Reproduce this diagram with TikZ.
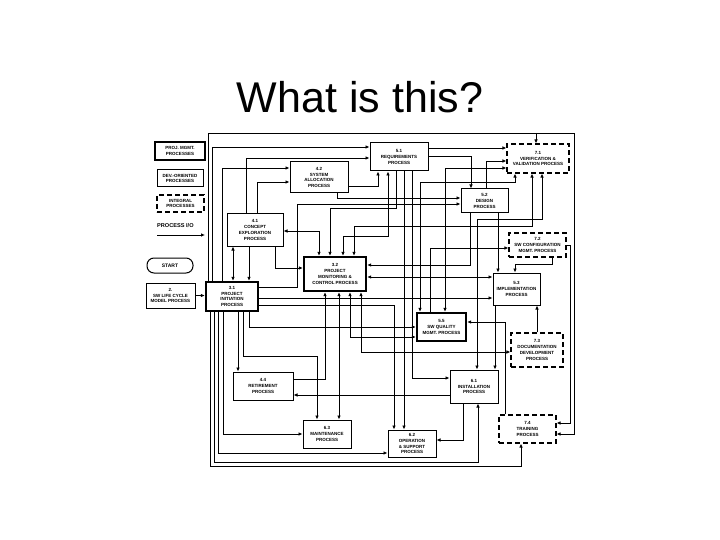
\documentclass[tikz,border=0pt]{standalone}
\usepackage{fontspec}
\setmainfont{Liberation Sans}
\usetikzlibrary{arrows.meta}
\newcommand{\bxf}{\fontsize{4.5}{5.9}\selectfont\bfseries}
\begin{document}
\begin{tikzpicture}[x=1pt,y=-1pt,
  box/.style={draw, line width=1pt, inner sep=0pt, align=center, font=\bxf},
  tbox/.style={box, line width=2.4pt},
  ibox/.style={box, line width=1.2pt, dash pattern=on 5pt off 3pt},
  sz/.style 2 args={minimum width=#1pt, minimum height=#2pt},
  wire/.style={line width=0.9pt},
  arr/.style={wire, -{Latex[length=4pt,width=3.6pt]}},
  darr/.style={wire, {Latex[length=4pt,width=3.6pt]}-{Latex[length=4pt,width=3.6pt]}}]
\useasboundingbox (0,0) rectangle (720,540);
\node[font=\fontsize{43}{50}\selectfont] (title) at (360,97) {What is this?};

% legend
\node[tbox, sz={50}{18}] (lgpm) at (180,151) {PROJ. MGMT.\\PROCESSES};
\node[box, sz={46}{17}] (lgdev) at (180,178.5) {DEV.-ORIENTED\\PROCESSES};
\node[ibox, sz={47}{17}] (lgint) at (180.5,203.5) {INTEGRAL\\PROCESSES};
\node[anchor=west, inner sep=0pt, font=\fontsize{5.6}{6}\selectfont\bfseries] (lgio) at (157,226) {PROCESS I/O};
\coordinate (la) at (157,235);
\coordinate (lb) at (205,235);
\draw[arr] (la) -- (lb);

% process boxes
\node[box, sz={46}{15}, rounded corners=7pt, font=\fontsize{5}{6}\selectfont\bfseries] (start) at (170,265.5) {START};
\node[box, sz={49}{25}] (lcm) at (170.5,295.5) {2.\\SW LIFE CYCLE\\MODEL PROCESS};
\node[tbox, sz={52}{29}] (pi) at (232,296.5) {3.1\\PROJECT\\INITIATION\\PROCESS};
\node[tbox, sz={62}{34}] (pmc) at (335,274) {3.2\\PROJECT\\MONITORING \&\\CONTROL PROCESS};
\node[box, sz={56}{32}] (ce) at (255,230) {4.1\\CONCEPT\\EXPLORATION\\PROCESS};
\node[box, sz={58}{31}] (sa) at (319,177.5) {4.2\\SYSTEM\\ALLOCATION\\PROCESS};
\node[box, sz={60}{28}] (ret) at (263,386) {4.4\\RETIREMENT\\PROCESS};
\node[box, sz={58}{28}] (req) at (399,157) {5.1\\REQUIREMENTS\\PROCESS};
\node[box, sz={47}{24}] (des) at (484.5,201) {5.2\\DESIGN\\PROCESS};
\node[box, sz={47}{32}] (imp) at (516.5,289) {5.3\\IMPLEMENTATION\\PROCESS};
\node[tbox, sz={49}{28}] (sqm) at (441.5,327) {5.5\\SW QUALITY\\MGMT. PROCESS};
\node[box, sz={48}{33}] (ins) at (474,386.5) {6.1\\INSTALLATION\\PROCESS};
\node[box, sz={48}{27}] (ops) at (412,443.5) {6.2\\OPERATION\\\& SUPPORT\\PROCESS};
\node[box, sz={48}{28}] (mnt) at (327,434) {6.3\\MAINTENANCE\\PROCESS};
\node[ibox, sz={62}{29}] (vv) at (538,158.5) {7.1\\VERIFICATION \&\\VALIDATION PROCESS};
\node[ibox, sz={57}{24}] (cm) at (537.5,245) {7.2\\SW CONFIGURATION\\MGMT. PROCESS};
\node[ibox, sz={52}{34}] (doc) at (537,350) {7.3\\DOCUMENTATION\\DEVELOPMENT\\PROCESS};
\node[ibox, sz={57}{28}] (trn) at (527.5,429) {7.4\\TRAINING\\PROCESS};

% connectors - top
\draw[arr] (pi.north -| 208,0) -- (208,133) -- (574,133) |- (trn.east |- 0,434);
\draw[arr] (536,133) -- (vv.north -| 536,0);
\draw[arr] (pi.north -| 212,0) |- (req.west |- 0,147);
\draw[arr] (pi.north -| 222,0) |- (sa.west |- 0,168);
\draw[arr] (ce.north -| 246,0) |- (req.west |- 0,158);
\draw[arr] (ce.north -| 257,0) |- (sa.west |- 0,182);
\draw[arr] (sa.east |- 0,186) -| (req.south -| 378,0);
\draw[darr] (pmc.north -| 343,0) |- (388,236) -- (req.south -| 388,0);
\draw[arr] (req.east |- 0,148) -- (vv.west |- 0,148);
\draw[arr] (req.east |- 0,156) -| (des.north -| 471,0);
\draw[arr] (des.north -| 486,0) |- (vv.west |- 0,161);
\draw[darr] (sqm.north -| 445,0) |- (vv.west |- 0,168);
\draw[arr] (req.south -| 396,0) |- (330,208) -- (pmc.north -| 330,0);
\draw[arr] (sa.south -| 337,0) |- (des.west |- 0,198);
\draw[arr] (pi.east |- 0,287) -| (297,204) -- (des.west |- 0,204);
\draw[darr] (ce.east |- 0,231) -| (pmc.north -| 319,0);
\draw[darr] (pmc.north -| 354,0) |- (532,226) -- (vv.south -| 532,0);
\draw[darr] (sqm.north -| 420,0) |- (515,182) -- (vv.south -| 515,0);
\draw[darr] (ins.north -| 477,0) |- (542,219) -- (vv.south -| 542,0);
\draw[arr] (sqm.north -| 430,0) |- (cm.west |- 0,248);
\draw[arr] (cm.south -| 552,0) |- (515,264) -- (imp.north -| 515,0);
\draw[arr] (des.south -| 498,0) -- (imp.north -| 498,0);
\draw[arr] (des.south -| 470,0) |- (pmc.east |- 0,265);
\draw[darr] (pmc.east |- 0,277) -- (imp.west |- 0,277);
\draw[arr] (pi.east |- 0,298) -- (imp.west |- 0,298);
\draw[arr] (pi.east |- 0,305) -| (ops.north -| 394,0);
\draw[arr] (req.south -| 404,0) -- (ops.north -| 404,0);
\draw[arr] (req.south -| 412,0) |- (ins.west |- 0,378);
\draw[arr] (ce.south -| 275,0) |- (pmc.west |- 0,268);
\draw[darr] (ce.south -| 233,0) -- (pi.north -| 233,0);
\draw[arr] (ce.south -| 249,0) -- (pi.north -| 249,0);
\draw[arr] (lcm.east) -- (pi.west |- lcm.east);

% connectors - bottom
\draw[arr] (pi.south -| 238,0) -- (ret.north -| 238,0);
\draw[arr] (pi.south -| 243,0) |- (317,356) -- (mnt.north -| 317,0);
\draw[arr] (pi.south -| 249,0) |- (sqm.west |- 0,327);
\draw[arr] (pi.south -| 223,0) |- (mnt.west |- 0,434);
\draw[arr] (pi.south -| 218,0) |- (ops.west |- 0,453);
\draw[arr] (pi.south -| 214,0) |- (478,462) -- (ins.south -| 478,0);
\draw[arr] (pi.south -| 210,0) |- (521,466) -- (trn.south -| 521,0);
\draw[arr] (ret.east |- 0,379) -| (pmc.south -| 325,0);
\draw[darr] (pmc.south -| 339,0) -- (mnt.north -| 339,0);
\draw[darr] (pmc.south -| 350,0) |- (sqm.west |- 0,337);
\draw[darr] (doc.west |- 0,352) -| (pmc.south -| 361,0);
\draw[arr] (ins.west |- 0,395) -- (ret.east |- 0,395);
\draw[arr] (ins.south -| 463,0) |- (ops.east |- 0,440);
\draw[arr] (imp.south -| 495,0) -- (ins.north -| 495,0);
\draw[arr] (trn.north -| 505,0) |- (sqm.east |- 0,322);
\draw[arr] (doc.north -| 537,0) -- (imp.south -| 537,0);
\draw[arr] (cm.east) -- (570,245) |- (trn.east |- 0,423);
\end{tikzpicture}
\end{document}
